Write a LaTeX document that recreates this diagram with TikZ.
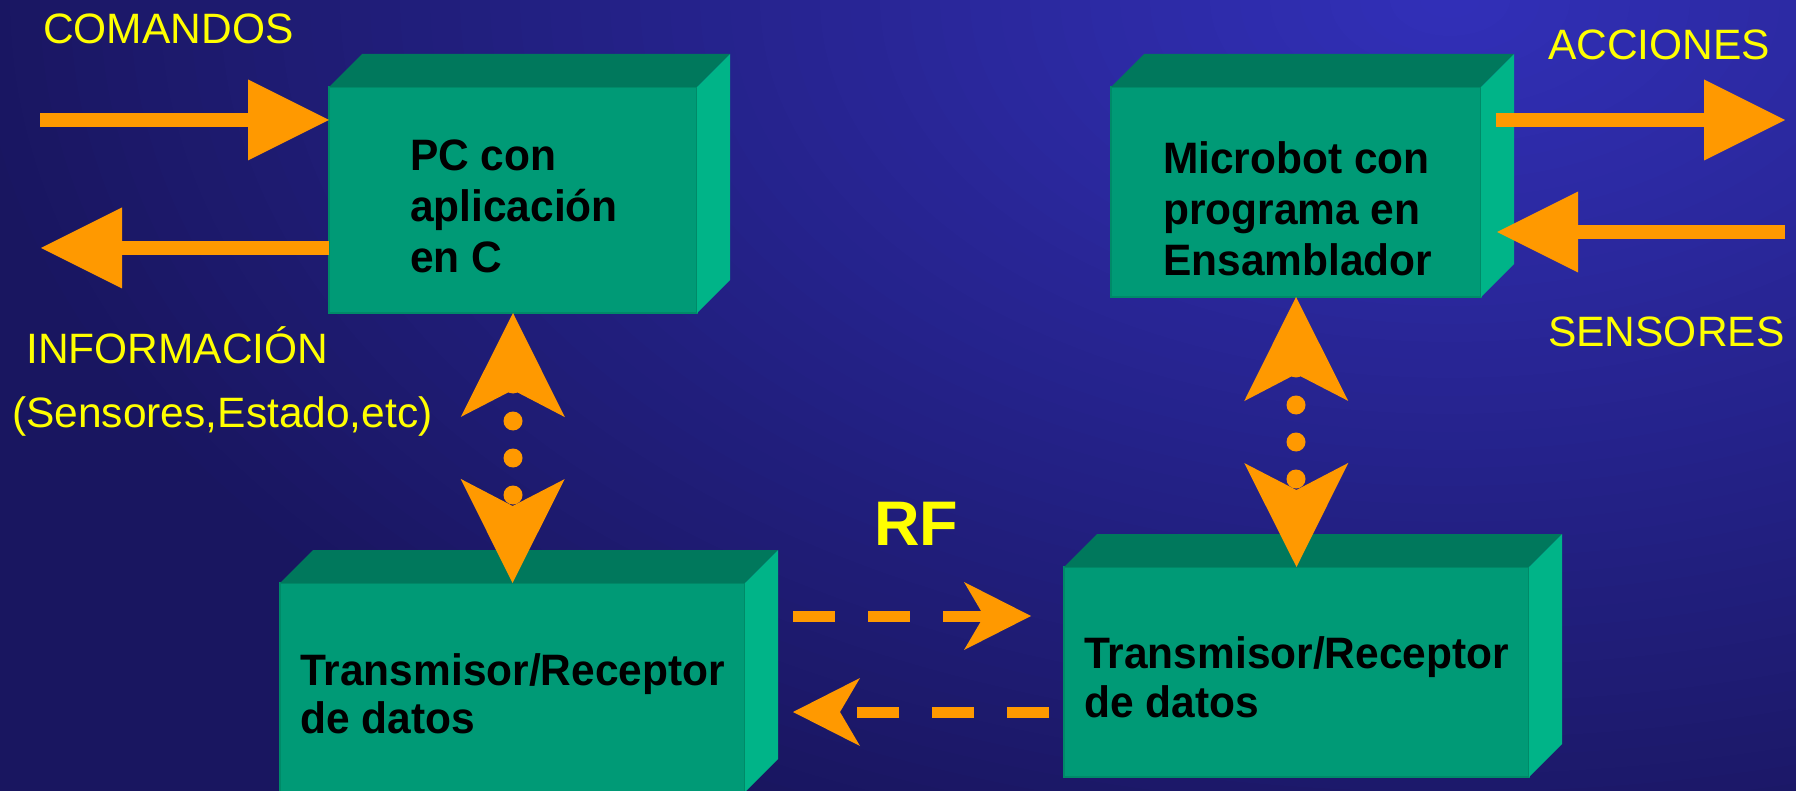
\documentclass[tikz,border=0pt]{standalone}
\usepackage{fontspec}
\setmainfont{Liberation Sans}
\newfontfamily\boxfont[FakeStretch=0.965]{Liberation Sans}
\usetikzlibrary{arrows.meta,calc}
\definecolor{bglight}{RGB}{50,48,185}
\definecolor{bgdark}{RGB}{25,22,96}
\definecolor{boxfront}{RGB}{0,154,118}
\definecolor{boxtop}{RGB}{0,120,92}
\definecolor{boxside}{RGB}{0,180,136}
\definecolor{boxedge}{RGB}{0,138,104}
\definecolor{arrorange}{RGB}{255,153,0}
\definecolor{labyellow}{RGB}{255,255,0}
\begin{document}
\begin{tikzpicture}[x=1pt,y=-1pt,
  frontface/.style={draw=boxedge, line width=1.5pt, fill=boxfront, inner sep=0pt, outer sep=0pt, anchor=north west},
  topface/.style={fill=boxtop},
  sideface/.style={fill=boxside},
  boxtext/.style={font=\boxfont\fontsize{44}{#1}\selectfont\bfseries, text=black, align=left, anchor=north west, inner sep=0pt},
  ylabel/.style={font=\fontsize{42.5}{50}\selectfont, text=labyellow, anchor=base west, inner sep=0pt},
  fatarrow/.style={draw=arrorange, line width=14pt, -{Triangle[length=81pt,width=81pt,line width=0pt]}},
  dotarrow/.style={draw=arrorange, line width=1pt, dash pattern=on 0pt off 1000pt, {Stealth[length=104pt,width=104pt,inset=27pt,line width=0pt]}-{Stealth[length=104pt,width=104pt,inset=27pt,line width=0pt]}},
  dasharrow/.style={draw=arrorange, line width=11pt, dash pattern=on 42pt off 33pt, -{Stealth[length=67pt,width=68pt,inset=20pt,line width=0pt]}},
  dotmark/.style={fill=arrorange}
]
\useasboundingbox (0,0) rectangle (1796,791);
% background: radial glow from the top right
\begin{scope}
  \clip (0,0) rectangle (1796,791);
  \fill[bgdark] (0,0) rectangle (1796,791);
  \foreach \i in {50,...,1}{
    \pgfmathtruncatemacro\p{2*(50-\i)}
    \pgfmathsetmacro\rx{30*\i}
    \pgfmathsetmacro\ry{18*\i}
    \fill[bglight!\p!bgdark] (1450,0) ellipse [x radius=\rx pt, y radius=\ry pt];
  }
\end{scope}

% boxes (front faces as nodes)
\node[frontface, minimum width=368pt, minimum height=226pt] (pc) at (329,87) {};
\node[frontface, minimum width=370pt, minimum height=210pt] (mb) at (1111,87) {};
\node[frontface, minimum width=465pt, minimum height=209pt] (tx1) at (280,583) {};
\node[frontface, minimum width=465pt, minimum height=210pt] (tx2) at (1064,567) {};

\foreach \b in {pc,mb,tx1,tx2}{
  \fill[topface] (\b.north west) -- ++(33,-33) -- ($(\b.north east)+(33,-33)$) -- (\b.north east) -- cycle;
  \fill[sideface] (\b.north east) -- ++(33,-33) -- ($(\b.south east)+(33,-33)$) -- (\b.south east) -- cycle;
}

% box texts
\node[boxtext=51] (pctxt) at (410,140) {PC con\\aplicación\\en C};
\node[boxtext=51] (mbtxt) at (1163,141) {Microbot con\\programa en\\Ensamblador};
\node[boxtext=48.5] (tx1txt) at (300,653) {Transmisor/Receptor\\de datos};
\node[boxtext=49] (tx2txt) at (1084,636) {Transmisor/Receptor\\de datos};

% labels
\node[ylabel] (cmd) at (43,44) {COMANDOS};
\node[ylabel] (info) at (26,363) {INFORMACIÓN};
\node[ylabel] (infodet) at (12,427) {(Sensores,Estado,etc)};
\node[ylabel] (acc) at (1548,60) {ACCIONES};
\node[ylabel] (sen) at (1548,347) {SENSORES};
\node[font=\fontsize{63}{70}\selectfont\bfseries, text=labyellow, anchor=base west, inner sep=0pt] (rf) at (874,545) {RF};

% fat arrows
\coordinate (cmdS) at (40,120);
\coordinate (infoE) at (41,248);
\coordinate (accE) at (1785,120);
\coordinate (senS) at (1785,232);
\draw[fatarrow] (cmdS) -- (pc.west |- cmdS);
\draw[fatarrow] (pc.west |- infoE) -- (infoE);
\draw[fatarrow] ($(mb.east |- accE)+(15,0)$) -- (accE);
\draw[fatarrow] (senS) -- ($(mb.east |- senS)+(16,0)$);

% dotted double arrows
\foreach \k in {0,1,2,3}{
  \fill[dotmark] ($(pc.south)+(0,71+37*\k)$) circle (9.5pt);
  \fill[dotmark] ($(mb.south)+(0,71+37*\k)$) circle (9.5pt);
}
\draw[dotarrow] (pc.south) -- (tx1.north);
\draw[dotarrow] (mb.south) -- (tx2.north);

% dashed RF arrows
\coordinate (rfA) at (793,616);
\coordinate (rfB) at (1031,616);
\coordinate (rfC) at (1049,712);
\coordinate (rfD) at (793,712);
\draw[dasharrow] (rfA) -- (rfB);
\draw[dasharrow] (rfC) -- (rfD);
\end{tikzpicture}
\end{document}
